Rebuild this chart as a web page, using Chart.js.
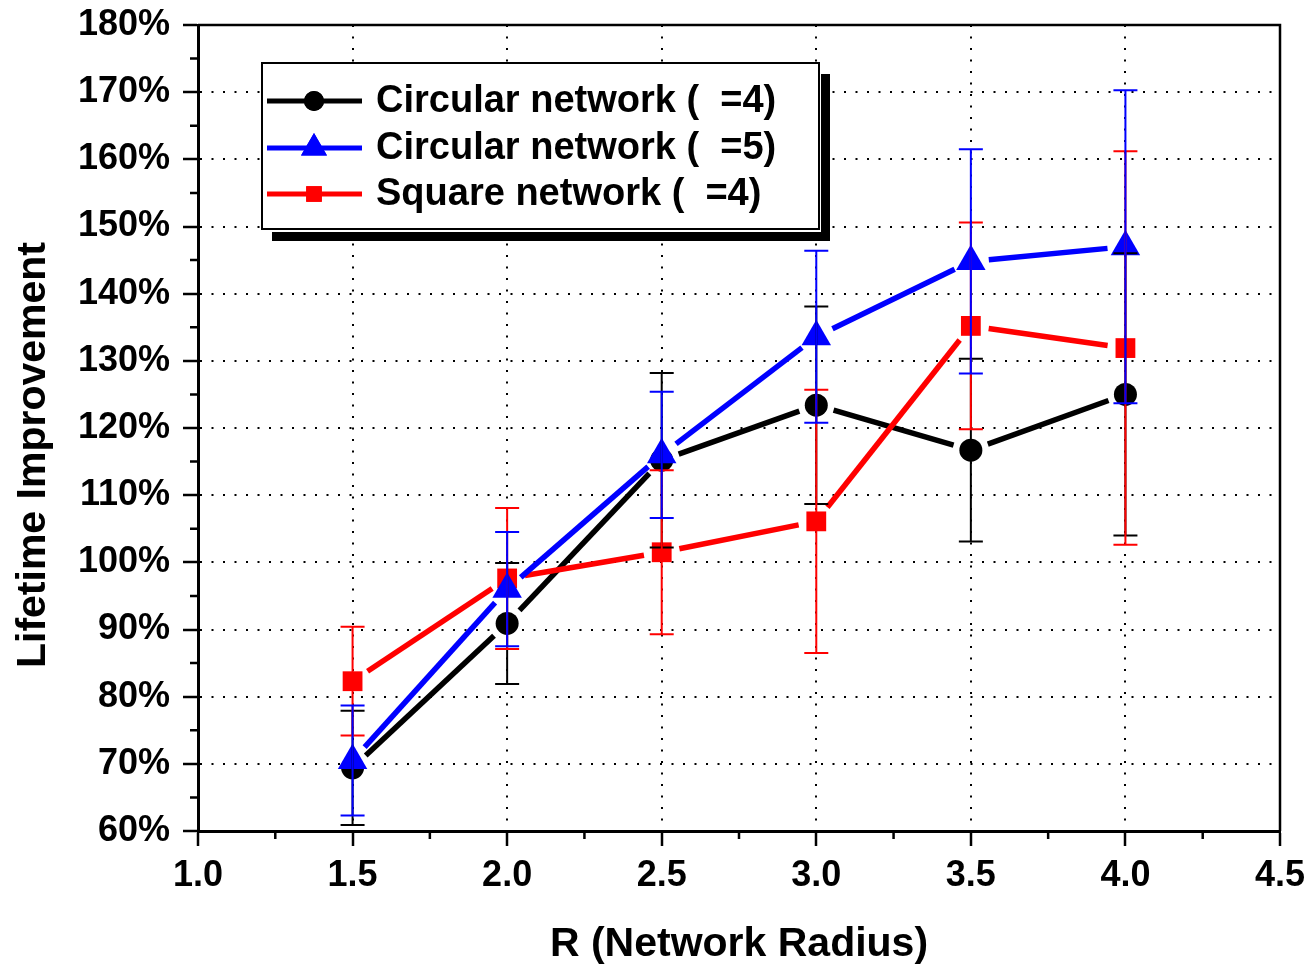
<!DOCTYPE html>
<html>
<head>
<meta charset="utf-8">
<script src="https://cdn.jsdelivr.net/npm/chart.js@4.4.0/dist/chart.umd.min.js"></script>
<style>
html, body { margin: 0; padding: 0; background: #fff; }
</style>
</head>
<body>
<canvas id="myChart" width="1313" height="964"></canvas>
<script>
// values (percent)
var radius = [1.5, 2.0, 2.5, 3.0, 3.5, 4.0];
var circ4 = [69.4, 90.9, 115.2, 123.4, 116.7, 125.0];
var circ4Err = [8.5, 9.0, 13.0, 14.7, 13.6, 21.0];
var circ5 = [70.5, 96.0, 116.0, 133.6, 144.8, 147.0];
var circ5Err = [8.2, 8.5, 9.4, 12.8, 16.7, 23.3];
var square4 = [82.3, 97.6, 101.5, 106.1, 135.2, 131.9];
var square4Err = [8.1, 10.5, 12.2, 19.6, 15.4, 29.3];
var seriesNames = ['Circular network (  =4)', 'Circular network (  =5)', 'Square network (  =4)'];
var xTitle = 'R (Network Radius)';
var yTitle = 'Lifetime Improvement';

var FONT = "'Liberation Sans', Arial, Helvetica, sans-serif";
Chart.defaults.font.family = FONT;
Chart.defaults.font.weight = 'bold';
Chart.defaults.color = '#000';

function pts(vals) {
    return radius.map(function (r, i) { return { x: r, y: vals[i] }; });
}

// lines drawn between markers with a small gap, like the original
var gapLines = {
    id: 'gapLines',
    beforeDatasetsDraw: function (chart) {
        var ctx = chart.ctx;
        var area = chart.chartArea;
        ctx.save();
        ctx.beginPath();
        ctx.rect(area.left, area.top, area.right - area.left, area.bottom - area.top);
        ctx.clip();
        [0, 2, 1].forEach(function (di) {
            var ds = chart.data.datasets[di];
            var els = chart.getDatasetMeta(di).data;
            ctx.strokeStyle = ds.borderColor;
            ctx.lineWidth = 5.5;
            for (var j = 0; j < els.length - 1; j++) {
                var a = els[j], b = els[j + 1];
                var dx = b.x - a.x, dy = b.y - a.y;
                var len = Math.sqrt(dx * dx + dy * dy);
                var g = 18;
                if (len <= 2 * g) continue;
                ctx.beginPath();
                ctx.moveTo(a.x + dx / len * g, a.y + dy / len * g);
                ctx.lineTo(b.x - dx / len * g, b.y - dy / len * g);
                ctx.stroke();
            }
        });
        ctx.restore();
    }
};

var errorBars = {
    id: 'errorBars',
    afterDatasetsDraw: function (chart) {
        var ctx = chart.ctx;
        var ys = chart.scales.y;
        ctx.save();
        [0, 2, 1].forEach(function (di) {
            var ds = chart.data.datasets[di];
            var els = chart.getDatasetMeta(di).data;
            ctx.strokeStyle = ds.borderColor;
            ctx.lineWidth = 2;
            els.forEach(function (el, j) {
                var v = ds.data[j].y, e = ds.errors[j];
                var top = ys.getPixelForValue(v + e);
                var bot = ys.getPixelForValue(v - e);
                ctx.beginPath();
                ctx.moveTo(el.x, top); ctx.lineTo(el.x, bot);
                ctx.moveTo(el.x - 12, top); ctx.lineTo(el.x + 12, top);
                ctx.moveTo(el.x - 12, bot); ctx.lineTo(el.x + 12, bot);
                ctx.stroke();
            });
        });
        ctx.restore();
    }
};

var frameAndLegend = {
    id: 'frameAndLegend',
    afterDraw: function (chart) {
        var ctx = chart.ctx;
        var a = chart.chartArea;
        var xs = chart.scales.x, ys = chart.scales.y;
        ctx.save();
        // top and right frame
        ctx.strokeStyle = '#000';
        ctx.lineWidth = 2.5;
        ctx.beginPath();
        ctx.moveTo(a.left, a.top); ctx.lineTo(a.right, a.top); ctx.lineTo(a.right, a.bottom);
        ctx.stroke();
        // minor ticks
        ctx.lineWidth = 2.5;
        ctx.beginPath();
        for (var v = 65; v < 180; v += 10) {
            var py = ys.getPixelForValue(v);
            ctx.moveTo(a.left - 8, py); ctx.lineTo(a.left, py);
        }
        for (var r = 1.25; r < 4.5; r += 0.5) {
            var px = xs.getPixelForValue(r);
            ctx.moveTo(px, a.bottom); ctx.lineTo(px, a.bottom + 8);
        }
        ctx.stroke();

        // y title
        ctx.fillStyle = '#000';
        ctx.font = 'bold 41px ' + FONT;
        ctx.textAlign = 'center';
        ctx.textBaseline = 'middle';
        ctx.save();
        ctx.translate(34, a.top + 430);
        ctx.rotate(-Math.PI / 2);
        ctx.fillText(yTitle, 0, 0);
        ctx.restore();

        // legend box with shadow
        var lx = a.left + 64, ly = a.top + 38, lw = 557, lh = 166;
        ctx.fillStyle = '#000';
        ctx.fillRect(lx + lw + 2, ly + 11, 9, lh + 1);
        ctx.fillRect(lx + 10, ly + lh + 3, lw + 1, 9);
        ctx.fillStyle = '#fff';
        ctx.fillRect(lx, ly, lw, lh);
        ctx.strokeStyle = '#000';
        ctx.lineWidth = 2;
        ctx.strokeRect(lx, ly, lw, lh);

        var rowsY = [ly + 38, ly + 85, ly + 131];
        var legendRadius = [10, 15, 11];
        chart.data.datasets.forEach(function (ds, i) {
            var cy = rowsY[i];
            ctx.strokeStyle = ds.borderColor;
            ctx.lineWidth = 5;
            ctx.beginPath();
            ctx.moveTo(lx + 5, cy); ctx.lineTo(lx + 100, cy);
            ctx.stroke();
            ctx.fillStyle = ds.backgroundColor;
            Chart.helpers.drawPoint(ctx, { pointStyle: ds.pointStyle, radius: legendRadius[i], borderWidth: 0, rotation: 0 }, lx + 52, cy);
            ctx.fill();
            ctx.fillStyle = '#000';
            ctx.font = 'bold 38px ' + FONT;
            ctx.textAlign = 'left';
            ctx.textBaseline = 'middle';
            ctx.fillText(ds.label, lx + 114, cy + 1);
        });
        ctx.restore();
    }
};

var ctx = document.getElementById('myChart');
var myChart = new Chart(ctx, {
    type: 'line',
    data: {
        datasets: [{
            label: seriesNames[0],
            data: pts(circ4),
            errors: circ4Err,
            showLine: false,
            borderColor: '#000000',
            backgroundColor: '#000000',
            pointStyle: 'circle',
            pointRadius: 11.5,
            pointBorderWidth: 0,
            order: 2
        }, {
            label: seriesNames[1],
            data: pts(circ5),
            errors: circ5Err,
            showLine: false,
            borderColor: '#0000ff',
            backgroundColor: '#0000ff',
            pointStyle: 'triangle',
            pointRadius: 17,
            pointBorderWidth: 0,
            order: 0
        }, {
            label: seriesNames[2],
            data: pts(square4),
            errors: square4Err,
            showLine: false,
            borderColor: '#ff0000',
            backgroundColor: '#ff0000',
            pointStyle: 'rect',
            pointRadius: 14,
            pointBorderWidth: 0,
            order: 1
        }]
    },
    options: {
        responsive: false,
        animation: false,
        events: [],
        layout: { padding: { top: 25, right: 33, left: 0, bottom: 0 } },
        plugins: { legend: { display: false }, tooltip: { enabled: false } },
        scales: {
            x: {
                type: 'linear',
                min: 1, max: 4.5,
                ticks: {
                    stepSize: 0.5,
                    padding: 8,
                    maxRotation: 0,
                    font: { size: 36, weight: 'bold' },
                    callback: function (v) { return v.toFixed(1); }
                },
                grid: { color: '#000', lineWidth: 2, tickLength: 15, tickWidth: 2.5, tickColor: '#000' },
                border: { display: true, color: '#000', width: 3, dash: [2, 9.5] },
                title: { display: true, text: xTitle, font: { size: 41, weight: 'bold' }, padding: { top: 30, bottom: -5 } },
                afterFit: function (s) { s.height = 133; s.paddingLeft = 0; s.paddingRight = 0; }
            },
            y: {
                min: 60, max: 180,
                ticks: {
                    stepSize: 10,
                    padding: 13,
                    font: { size: 36, weight: 'bold' },
                    callback: function (v) { return v + '%'; }
                },
                grid: { color: '#000', lineWidth: 2, tickLength: 15, tickWidth: 2.5, tickColor: '#000' },
                border: { display: true, color: '#000', width: 3, dash: [2, 9.5] },
                afterFit: function (s) { s.width = 198; s.paddingTop = 0; s.paddingBottom = 0; }
            }
        }
    },
    plugins: [gapLines, errorBars, frameAndLegend]
});
</script>
</body>
</html>
